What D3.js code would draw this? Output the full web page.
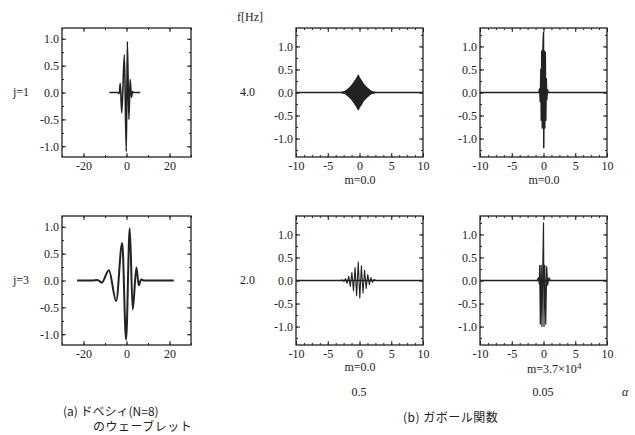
<!DOCTYPE html>
<html>
<head>
<meta charset="utf-8">
<script src="https://cdn.jsdelivr.net/npm/d3@7"></script>
<style>
  body { margin: 0; background: #fff; }
  svg { display: block; }
</style>
</head>
<body>
<svg width="635" height="435"></svg>
<script>
// tick values
var yTicks = [-1.0, -0.5, 0.0, 0.5, 1.0];
var xTicksA = [-20, 0, 20];
var xTicksB = [-10, -5, 0, 5, 10];

// (a) daubechies N=8 wavelet as [t, value]
var daubJ1 = [[-8,0],[-4,0],[-3.4,-0.02],[-2.9,0.17],[-2.2,-0.38],[-1.0,0.70],[-0.1,-1.1],
  [0.4,0.95],[1.1,-0.5],[1.7,0.24],[2.3,-0.09],[2.8,0.02],[3.3,0],[6.4,0]];
var daubJ3 = [[-23,0],[-16,0],[-13.5,0.01],[-11.5,-0.04],[-8.2,0.19],[-4.8,-0.38],[-2.0,0.70],
  [-0.2,-1.1],[1.5,0.97],[2.9,-0.54],[4.6,0.24],[5.7,-0.09],[6.8,0.02],[8,0],[22,0]];

// (b) gabor functions
// f=4.0, alpha=0.5 : too dense to resolve, so only the envelope is read [t, amplitude]
var gabF4a05 = [[-3.3,0.004],[-2.7,0.02],[-2.3,0.04],[-1.9,0.08],[-1.5,0.13],[-1.15,0.19],
  [-0.8,0.26],[-0.5,0.32],[-0.2,0.39],[0.1,0.32],[0.4,0.26],[0.7,0.19],[1.1,0.13],
  [1.5,0.08],[1.9,0.04],[2.3,0.02],[2.9,0.004]];
// f=4.0, alpha=0.05
var gabF4a005 = [[-0.75,0],[-0.6,0.08],[-0.5,-0.2],[-0.42,0.5],[-0.35,-0.6],[-0.27,0.9],
  [-0.19,-0.77],[-0.1,0.9],[0.0,1.3],[0.04,-1.2],[0.12,0.9],[0.2,-0.77],[0.28,0.88],
  [0.36,-0.6],[0.44,0.3],[0.52,-0.15],[0.62,0.06],[0.75,0]];
// f=2.0, alpha=0.5
var gabF2a05 = [[-3.0,0],[-2.7,0.01],[-2.45,-0.02],[-2.2,0.04],[-1.95,-0.06],[-1.7,0.09],
  [-1.45,-0.13],[-1.2,0.17],[-0.95,-0.22],[-0.7,0.28],[-0.45,-0.33],[-0.2,0.40],[0.05,-0.38],
  [0.3,0.32],[0.55,-0.27],[0.8,0.22],[1.05,-0.17],[1.3,0.13],[1.55,-0.09],[1.8,0.06],
  [2.05,-0.04],[2.3,0.02],[2.6,0]];
// f=2.0, alpha=0.05
var gabF2a005 = [[-1.0,0],[-0.8,0.06],[-0.65,-0.08],[-0.6,0.33],[-0.5,-0.95],[-0.35,0.33],
  [-0.25,-1.0],[-0.1,0.33],[0.0,1.25],[0.08,-1.0],[0.2,0.33],[0.35,-0.95],[0.5,0.3],
  [0.65,-0.1],[0.85,0.06],[1.1,0]];

var rowLabelsA = ["j=1", "j=3"];
var freqLabels = ["4.0", "2.0"];
var alphaLabels = ["0.5", "0.05"];

var svg = d3.select("svg");
var ink = "#222";
var serif = '"Liberation Serif", "DejaVu Serif", serif';
var gothic = '"Noto Sans CJK JP", sans-serif';
var hy = function(f) { return function(d) { return f(d).replace("\u2212", "-"); }; };

function panel(x0, y0, w, h, xDom, yDom, xMajor, xMinor, yMinor) {
  var g = svg.append("g").attr("transform", "translate(" + x0 + "," + y0 + ")");
  var x = d3.scaleLinear().domain(xDom).range([0, w]);
  var y = d3.scaleLinear().domain(yDom).range([h, 0]);

  g.append("rect").attr("width", w).attr("height", h)
    .attr("fill", "none").attr("stroke", ink).attr("stroke-width", 1.3);

  // minor ticks, all sides
  [[d3.axisBottom(x).tickValues(xMinor), "translate(0," + h + ")"],
   [d3.axisTop(x).tickValues(xMinor), null],
   [d3.axisLeft(y).tickValues(yMinor), null],
   [d3.axisRight(y).tickValues(yMinor), "translate(" + w + ",0)"]].forEach(function(a) {
    var ag = g.append("g").call(a[0].tickSize(-2).tickFormat(""));
    if (a[1]) ag.attr("transform", a[1]);
  });
  // major ticks
  var bx = g.append("g").attr("transform", "translate(0," + h + ")")
    .call(d3.axisBottom(x).tickValues(xMajor).tickSize(-4).tickPadding(3).tickFormat(hy(d3.format("d"))));
  g.append("g")
    .call(d3.axisLeft(y).tickValues(yTicks).tickSize(-4).tickPadding(3).tickFormat(hy(d3.format(".1f"))));
  g.append("g").call(d3.axisTop(x).tickValues(xMajor).tickSize(-4).tickFormat(""));
  g.append("g").attr("transform", "translate(" + w + ",0)")
    .call(d3.axisRight(y).tickValues(yTicks).tickSize(-4).tickFormat(""));

  g.selectAll(".domain").remove();
  g.selectAll(".tick line").attr("stroke", ink).attr("stroke-width", 1);
  g.selectAll("g").attr("font-family", serif).attr("font-size", 12);
  g.selectAll(".tick text").style("font-family", serif).style("font-size", "12px").attr("fill", ink);
  bx.selectAll("text").attr("dy", "0.85em");
  return {g: g, x: x, y: y};
}

function trace(p, pts, wd, curve) {
  p.g.append("path").datum(pts)
    .attr("d", d3.line().x(function(d) { return p.x(d[0]); }).y(function(d) { return p.y(d[1]); })
      .curve(curve || d3.curveLinear))
    .attr("fill", "none").attr("stroke", ink).attr("stroke-width", wd)
    .attr("stroke-linejoin", "round");
}

function baseline(p, dom) {
  trace(p, [[dom[0], 0], [dom[1], 0]], 1.3);
}

var aX = [-30, 30], aY = [-1.2, 1.2];
var bX = [-10, 10], bY = [-1.4, 1.4];
var minA = d3.range(-30, 31, 10), minB = d3.range(-10, 11, 1.25);
var minYA = d3.range(-1.0, 1.01, 0.25), minYB = d3.range(-1.25, 1.26, 0.25);

var rows = [28, 216];
var ph = 129;

// (a)
var a1 = panel(62, rows[0], 129, ph, aX, aY, xTicksA, minA, minYA);
trace(a1, daubJ1, 1.6, d3.curveMonotoneX);
var a2 = panel(62, rows[1], 129, ph, aX, aY, xTicksA, minA, minYA);
trace(a2, daubJ3, 2, d3.curveMonotoneX);

// (b)
var b1 = panel(296, rows[0], 127, ph, bX, bY, xTicksB, minB, minYB);
baseline(b1, bX);
b1.g.append("path").datum(gabF4a05)
  .attr("d", d3.area().x(function(d) { return b1.x(d[0]); })
    .y0(function(d) { return b1.y(-d[1]); }).y1(function(d) { return b1.y(d[1]); })
    .curve(d3.curveMonotoneX))
  .attr("fill", ink);

var b2 = panel(480, rows[0], 127, ph, bX, bY, xTicksB, minB, minYB);
baseline(b2, bX);
trace(b2, gabF4a005, 1.5);

var b3 = panel(296, rows[1], 127, ph, bX, bY, xTicksB, minB, minYB);
baseline(b3, bX);
trace(b3, gabF2a05, 1.1);

var b4 = panel(480, rows[1], 127, ph, bX, bY, xTicksB, minB, minYB);
baseline(b4, bX);
trace(b4, gabF2a005, 1.2);

// labels
function txt(x, y, s, fam, anchor) {
  return svg.append("text").attr("x", x).attr("y", y)
    .style("font-family", fam || serif).style("font-size", "12px").attr("fill", ink)
    .attr("text-anchor", anchor || "start").text(s);
}
rowLabelsA.forEach(function(s, i) { txt(13, rows[i] + 68, s); });
freqLabels.forEach(function(s, i) { txt(240, rows[i] + 68, s); });
txt(237, 21, "f[Hz]");

txt(360, 184, "m=0.0", serif, "middle");
txt(544, 184, "m=0.0", serif, "middle");
txt(360, 371, "m=0.0", serif, "middle");
var mt = txt(527, 373, "m=3.7\u00d710");
mt.append("tspan").attr("dy", -4).style("font-size", "9px").text("4");

alphaLabels.forEach(function(s, i) { txt(i ? 543 : 359, 396, s, serif, "middle"); });
txt(622, 396, "\u03b1").style("font-style", "italic");

txt(63, 416, "(a)  ドベシィ(N=8)", gothic);
txt(93, 431, "のウェーブレット", gothic).attr("letter-spacing", "0.5px");
txt(403, 422, "(b)  ガボール関数", gothic).attr("letter-spacing", "0.5px");
</script>
</body>
</html>
